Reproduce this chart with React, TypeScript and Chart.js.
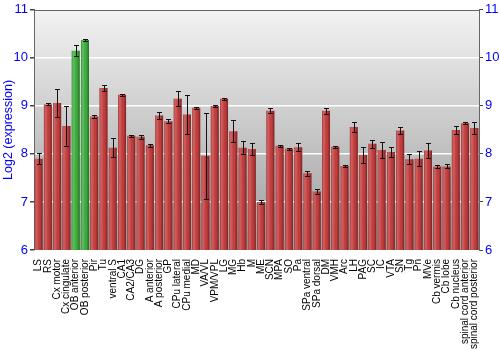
import React, { useEffect, useRef } from 'react';
import { Chart, registerables } from 'chart.js';

Chart.register(...registerables);

const regions = [
  'LS', 'RS', 'Cx motor', 'Cx cingulate', 'OB anterior', 'OB posterior', 'Pir', 'Tu',
  'ventral S', 'CA1', 'CA2/CA3', 'DG', 'A anterior', 'A posterior', 'GP', 'CPu lateral',
  'CPu medial', 'MD', 'VA/VL', 'VPM/VPL', 'LG', 'MG', 'Hb', 'M', 'ME', 'SCN', 'MPA', 'SO',
  'Pa', 'SPa ventral', 'SPa dorsal', 'DM', 'VMH', 'Arc', 'LH', 'PAG', 'SC', 'IC', 'VTA',
  'SN', 'Tg', 'Pn', 'MVe', 'Cb vermis', 'Cb lobe', 'Cb nucleus', 'spinal cord anterior',
  'spinal cord posterior',
];

const expression = [
  7.90, 9.03, 9.06, 8.58, 10.15, 10.37, 8.78, 9.37,
  8.13, 9.23, 8.38, 8.36, 8.18, 8.80, 8.68, 9.15,
  8.82, 8.96, 7.96, 9.00, 9.15, 8.47, 8.13, 8.10, 7.00, 8.90, 8.17, 8.11,
  8.14, 7.60, 7.22, 8.90, 8.15, 7.75, 8.56, 7.98, 8.21, 8.08, 8.04,
  8.49, 7.89, 7.90, 8.07, 7.74, 7.74, 8.50, 8.64,
  8.54,
];

const errors = [
  0.11, 0.02, 0.29, 0.41, 0.11, 0.02, 0.03, 0.06,
  0.20, 0.02, 0.02, 0.04, 0.03, 0.07, 0.04, 0.16,
  0.41, 0.02, 0.89, 0.02, 0.02, 0.23, 0.13, 0.13, 0.04, 0.05, 0.02, 0.02,
  0.08, 0.05, 0.05, 0.06, 0.02, 0.02, 0.11, 0.17, 0.09, 0.16, 0.10,
  0.08, 0.10, 0.16, 0.15, 0.03, 0.04, 0.08, 0.02,
  0.12,
];

const highlighted = ['OB anterior', 'OB posterior'];

const yTicks = [6, 7, 8, 9, 10, 11];

const FONT = "'Liberation Sans', Arial, sans-serif";

export default function App() {
  const canvasRef = useRef<HTMLCanvasElement | null>(null);

  useEffect(() => {
    const canvas = canvasRef.current;
    if (!canvas) return;

    const bgPlugin = {
      id: 'bgGradient',
      beforeDraw(chart: any) {
        const { ctx, chartArea } = chart;
        if (!chartArea) return;
        const g = ctx.createLinearGradient(0, chartArea.top, 0, chartArea.bottom);
        g.addColorStop(0, '#f3f3f3');
        g.addColorStop(1, '#9c9c9c');
        ctx.save();
        ctx.fillStyle = g;
        ctx.fillRect(chartArea.left, chartArea.top, chartArea.right - chartArea.left, chartArea.bottom - chartArea.top);
        ctx.restore();
      },
    };

    const overlayPlugin = {
      id: 'barOverlay',
      afterDatasetsDraw(chart: any) {
        const { ctx, chartArea } = chart;
        const meta = chart.getDatasetMeta(0);
        const yScale = chart.scales.y;
        ctx.save();
        ctx.beginPath();
        ctx.rect(chartArea.left, chartArea.top, chartArea.right - chartArea.left, chartArea.bottom - chartArea.top);
        ctx.clip();
        meta.data.forEach((bar: any) => {
          const left = bar.x - bar.width / 2;
          const bottom = Math.min(bar.base, chartArea.bottom);
          const g = ctx.createLinearGradient(left, 0, left + bar.width, 0);
          g.addColorStop(0, 'rgba(0,0,0,0.30)');
          g.addColorStop(0.15, 'rgba(255,255,255,0.18)');
          g.addColorStop(0.35, 'rgba(255,255,255,0.12)');
          g.addColorStop(0.65, 'rgba(0,0,0,0.0)');
          g.addColorStop(1, 'rgba(0,0,0,0.38)');
          ctx.fillStyle = g;
          ctx.fillRect(left, bar.y, bar.width, bottom - bar.y);
        });
        // error bars
        ctx.strokeStyle = '#111';
        ctx.lineWidth = 1;
        meta.data.forEach((bar: any, i: number) => {
          const v = expression[i];
          const e = errors[i];
          const yt = Math.round(yScale.getPixelForValue(v + e)) + 0.5;
          const yb = Math.round(yScale.getPixelForValue(v - e)) + 0.5;
          const x = Math.round(bar.x) + 0.5;
          ctx.beginPath();
          ctx.moveTo(x, yt);
          ctx.lineTo(x, yb);
          ctx.moveTo(x - 2.5, yt);
          ctx.lineTo(x + 2.5, yt);
          ctx.moveTo(x - 2.5, yb);
          ctx.lineTo(x + 2.5, yb);
          ctx.stroke();
        });
        ctx.restore();
        // top border
        ctx.save();
        ctx.strokeStyle = '#666';
        ctx.lineWidth = 1;
        ctx.beginPath();
        ctx.moveTo(chartArea.left, Math.round(chartArea.top) + 0.5);
        ctx.lineTo(chartArea.right, Math.round(chartArea.top) + 0.5);
        ctx.stroke();
        ctx.restore();
      },
    };

    const chart = new Chart(canvas, {
      type: 'bar',
      data: {
        labels: regions,
        datasets: [
          {
            data: expression,
            backgroundColor: regions.map((r) => (highlighted.includes(r) ? '#3cae3c' : '#c43c3c')),
            borderWidth: 0,
            categoryPercentage: 1,
            barPercentage: 0.86,
          },
        ],
      },
      options: {
        animation: false,
        responsive: false,
        layout: { padding: { top: 9, left: 0, right: 0, bottom: 0 } },
        plugins: {
          legend: { display: false },
          tooltip: { enabled: false },
        },
        scales: {
          x: {
            grid: { display: false },
            border: { display: false },
            ticks: {
              autoSkip: false,
              maxRotation: 90,
              minRotation: 90,
              padding: 1,
              color: '#000',
              font: { family: FONT, size: 10 },
            },
            afterFit(scale: any) {
              scale.height = 100;
            },
          },
          y: {
            position: 'left',
            min: 6,
            max: 11,
            afterBuildTicks(scale: any) {
              scale.ticks = yTicks.map((v) => ({ value: v }));
            },
            grid: {
              color: (c: any) => (c.tick && (c.tick.value === 6 || c.tick.value === 11) ? 'rgba(0,0,0,0)' : '#ffffff'),
              lineWidth: 1.5,
              tickLength: 4,
              tickColor: '#444',
            },
            border: { display: true, color: '#666' },
            ticks: {
              color: '#0000ff',
              padding: 2,
              font: { family: FONT, size: 13 },
            },
            title: {
              display: true,
              text: 'Log2 (expression)',
              color: '#0000ff',
              font: { family: FONT, size: 12.5 },
              padding: { top: 1, bottom: 0 },
            },
            afterFit(scale: any) {
              scale.width = 34;
            },
          },
          y2: {
            position: 'right',
            min: 6,
            max: 11,
            afterBuildTicks(scale: any) {
              scale.ticks = yTicks.map((v) => ({ value: v }));
            },
            grid: {
              drawOnChartArea: false,
              tickLength: 4,
              tickColor: '#444',
            },
            border: { display: true, color: '#666' },
            ticks: {
              color: '#0000ff',
              padding: 2,
              font: { family: FONT, size: 13 },
            },
            afterFit(scale: any) {
              scale.width = 21;
            },
          },
        },
      },
      plugins: [bgPlugin, overlayPlugin],
    } as any);

    return () => chart.destroy();
  }, []);

  return (
    <div style={{ position: 'fixed', left: 0, top: 0, width: 500, height: 350, background: '#fff' }}>
      <canvas ref={canvasRef} width={500} height={350} style={{ width: 500, height: 350 }} />
    </div>
  );
}
